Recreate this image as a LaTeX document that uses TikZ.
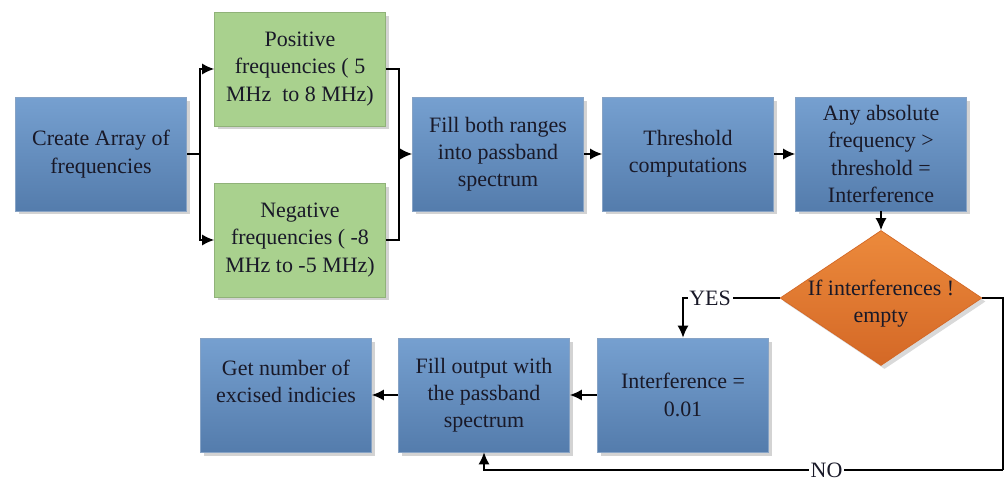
\documentclass[tikz,border=0pt]{standalone}
\usepackage{fontspec}
\setmainfont{Liberation Serif}
\usetikzlibrary{positioning,shapes.geometric,shadows,arrows.meta}

\definecolor{bluelt}{RGB}{118,160,208}
\definecolor{bluedk}{RGB}{84,124,172}
\definecolor{greenbox}{RGB}{169,209,142}
\definecolor{orangelt}{RGB}{236,138,60}
\definecolor{orangedk}{RGB}{212,104,38}
\definecolor{textdk}{RGB}{25,25,40}

\begin{document}
\begin{tikzpicture}[x=0.02cm,y=-0.02cm,
    box/.style={rectangle,minimum width=3.42cm,minimum height=2.28cm,align=center,
      font=\fontsize{12.5}{15.5}\selectfont,text=textdk,
      drop shadow={opacity=0.35,shadow xshift=2pt,shadow yshift=-2pt}},
    bluebox/.style={box,top color=bluelt,bottom color=bluedk,draw=bluedk!70!white},
    greenbox/.style={box,fill=greenbox,draw=greenbox!85!black},
    decision/.style={diamond,minimum width=4.04cm,minimum height=2.7cm,inner sep=0pt,
      top color=orangelt,bottom color=orangedk,draw=orangedk,
      drop shadow={opacity=0.3,shadow xshift=2pt,shadow yshift=-2pt}},
    dectext/.style={align=center,font=\fontsize{12.5}{15.5}\selectfont,text=textdk},
    line/.style={line width=0.8pt,black},
    arr/.style={line,-{Latex[length=2.4mm,width=2.2mm]}},
    lbl/.style={fill=white,inner sep=1pt,font=\fontsize{12.5}{15.5}\selectfont,text=textdk}]

    \useasboundingbox (0,0) rectangle (1005,479);

    % top row
    \node[bluebox] (create) at (101,154) {Create Array of\\frequencies};
    \node[greenbox] (pos) at (300,69) {Positive\\frequencies ( 5\\MHz\enspace to 8 MHz)};
    \node[greenbox] (neg) at (300,240) {Negative\\frequencies ( -8\\MHz to -5 MHz)};
    \node[bluebox] (fill) at (498,154) {Fill both ranges\\into passband\\spectrum};
    \node[bluebox] (thresh) at (688,154) {Threshold\\computations};
    \node[bluebox] (any) at (881,154) {Any absolute\\frequency >\\threshold =\\Interference};

    % decision and bottom row
    \node[decision,label={[dectext,yshift=-3pt]center:If interferences !\\empty}] (dec) at (881,298) {};
    \node[bluebox] (inter) at (683,395) {Interference =\\0.01};
    \node[bluebox] (fillout) at (484,395) {Fill output with\\the passband\\spectrum};
    \node[bluebox] (count) at (286,395) {Get number of\\excised indicies\\~};

    \coordinate (split) at (200,154);
    \coordinate (merge) at (399,154);
    \coordinate (noright) at (1003,470);

    \draw[line] (create.east) -- (split);
    \draw[arr] (split) |- (pos.west);
    \draw[arr] (split) |- (neg.west);
    \draw[line] (pos.east) -| (merge);
    \draw[line] (neg.east) -| (merge);
    \draw[arr] (merge) -- (fill.west);
    \draw[arr] (fill) -- (thresh);
    \draw[arr] (thresh) -- (any);
    \draw[arr] (any) -- (dec);

    \draw[arr] (dec.west) -| node[lbl,pos=0.36] {YES} (inter.north);
    \draw[line] (dec.east) -| (noright);
    \draw[arr] (noright) -| node[lbl,pos=0.17] {NO} (fillout.south);
    \draw[arr] (inter) -- (fillout);
    \draw[arr] (fillout) -- (count);

\end{tikzpicture}
\end{document}
